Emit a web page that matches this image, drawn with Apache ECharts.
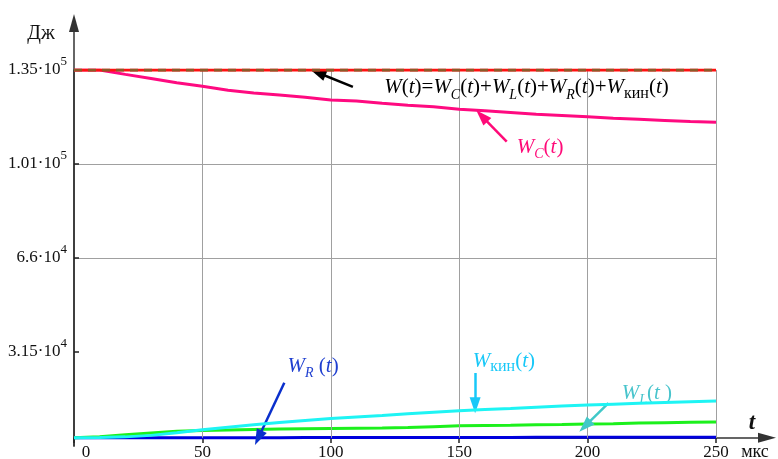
<!DOCTYPE html>
<html><head><meta charset="utf-8">
<script src="https://cdn.jsdelivr.net/npm/echarts@6/dist/echarts.min.js"></script>
<style>html,body{margin:0;padding:0;background:#fff}#c{width:778px;height:459px}</style>
</head><body><div id="c"></div>
<script>
// ---- data (t in мкс, energies in Дж) ----
const tValues = [0,10,20,30,40,50,60,70,80,90,100,110,120,130,140,150,160,170,180,190,200,210,220,230,240,250];
const W_total = [135000,135000,135000,135000,135000,135000,135000,135000,135000,135000,135000,135000,135000,135000,135000,135000,135000,135000,135000,135000,135000,135000,135000,135000,135000,135000];
const W_C = [135000,135000,133400,131900,130300,129000,127600,126600,125800,125000,124000,123600,122800,122100,121500,120600,120000,119400,118800,118300,117800,117300,116900,116500,116100,115800];
const W_L = [0,400,1100,1800,2400,2700,2900,3100,3200,3300,3400,3500,3600,3800,4100,4400,4500,4600,4800,4900,5050,5200,5400,5550,5700,5800];
const W_kin = [0,100,350,900,1900,3000,3900,4800,5600,6400,7080,7650,8200,8800,9400,9940,10400,10800,11250,11650,12040,12350,12650,12950,13250,13500];
const W_R = [0,0,10,20,30,40,50,60,70,80,90,100,110,120,130,140,150,160,170,180,190,200,210,220,230,240];
const xTicks = [50,100,150,200,250];
const yTickValues = [31500,66000,100500,135000];
const yTickMantissa = ['3.15','6.6','1.01','1.35'];
const yTickExponent = ['4','4','5','5'];

const FONT = 'Liberation Serif';
const pair = ys => tValues.map((t,i)=>[t, ys[i]]);

const richText = {
  i:{fontFamily:FONT,fontStyle:'italic',fontSize:21,lineHeight:28},
  n:{fontFamily:FONT,fontSize:21,lineHeight:28},
  sb:{fontFamily:FONT,fontStyle:'italic',fontSize:14,lineHeight:14,verticalAlign:'bottom'},
  su:{fontFamily:FONT,fontSize:16,lineHeight:16,verticalAlign:'bottom'}
};
function withColor(c){const r={};for(const k in richText){r[k]=Object.assign({},richText[k],{color:c});}return r;}

const labels = [
  {coord:[176.2,128400], color:'#000000', text:'{i|W}{n|(}{i|t}{n|)=}{i|W}{sb|C}{n|(}{i|t}{n|)+}{i|W}{sb|L}{n|(}{i|t}{n|)+}{i|W}{sb|R}{n|(}{i|t}{n|)+}{i|W}{su|кин}{n|(}{i|t}{n|)}'},
  {coord:[181.5,106700], color:'#ff0a78', text:'{i|W}{sb|C}{n|(}{i|t}{n|)}'},
  {coord:[93.1,26300], color:'#1f3fd0', text:'{i|W}{sb|R}{n| (}{i|t}{n|)}'},
  {coord:[167.4,28200], color:'#18c8f8', text:'{i|W}{su|кин}{n|(}{i|t}{n|)}'},
  {coord:[223.1,16400], color:'#48c4cc', text:'{i|W}{sb|L}{n|(}{i|t}{n| )}'}
];
const arrows = [
  {from:[108.6,128800], to:[95.0,134000], color:'#000000'},
  {from:[168.5,108700], to:[158.8,118100], color:'#ff0a78'},
  {from:[81.9,20200], to:[71.8,0], color:'#0a2fcc'},
  {from:[156.2,23800], to:[156.2,12000], color:'#18c8f8'},
  {from:[208.1,12700], to:[199.0,4300], color:'#40c8c8'}
];

const chart = echarts.init(document.getElementById('c'), null, {renderer:'canvas'});
const lineS = (name, ys, color, z, extra) => Object.assign({
  name, type:'line', data: pair(ys), xAxisIndex:0, yAxisIndex:0, showSymbol:false, symbol:'none',
  lineStyle:{color, width:3}, itemStyle:{color}, z, animation:false, silent:true
}, extra||{});

chart.setOption({
  animation:false,
  backgroundColor:'#ffffff',
  grid:[
    {left:74, right:62, top:70, bottom:13, containLabel:false, outerBoundsMode:'none'},
    {left:74, right:11, top:23, bottom:13, containLabel:false, outerBoundsMode:'none'}
  ],
  xAxis:[
    {gridIndex:0, type:'value', min:0, max:250, interval:50, offset:-8,
     axisLine:{show:true, onZero:false, lineStyle:{color:'#333', width:1.5}},
     axisTick:{show:true, inside:false, length:5, lineStyle:{color:'#222', width:1.5}},
     splitLine:{show:false},
     axisLabel:{fontFamily:FONT, fontSize:17, color:'#111', margin:6, hideOverlap:false,
       formatter: v => v===0 ? '{z|0}' : String(v),
       rich:{z:{fontFamily:FONT, fontSize:17, color:'#111', padding:[0,0,0,24]}}}},
    {gridIndex:1, type:'value', min:0, max:269.86, show:true,
     axisLine:{show:true, onZero:true, symbol:['none','triangle'], symbolSize:[10,18], lineStyle:{color:'#333', width:1.5}},
     axisTick:{show:false}, axisLabel:{show:false}, splitLine:{show:false}}
  ],
  yAxis:[
    {gridIndex:0, type:'value', min:-3000, max:135000, interval:34500,
     axisLine:{show:true, onZero:false, lineStyle:{color:'#333', width:1.5}},
     axisTick:{show:true, inside:true, length:5, customValues:yTickValues, lineStyle:{color:'#222', width:1.5}},
     splitLine:{show:true, showMinLine:false, lineStyle:{color:'#a0a0a0', width:1}},
     axisLabel:{margin:7, color:'#111', hideOverlap:false,
       formatter: v => { const k = yTickValues.indexOf(v); return k<0 ? '' : '{b|'+yTickMantissa[k]+'·10}{s|'+yTickExponent[k]+'}'; },
       rich:{b:{fontFamily:FONT, fontSize:17, lineHeight:30, color:'#111'},
             s:{fontFamily:FONT, fontSize:13, lineHeight:13, verticalAlign:'top', color:'#111'}}}},
    {gridIndex:1, type:'value', min:-3000, max:152250,
     axisLine:{show:true, onZero:false, symbol:['none','triangle'], symbolSize:[10,18], lineStyle:{color:'#333', width:1.5}},
     axisTick:{show:false}, axisLabel:{show:false}, splitLine:{show:false}}
  ],
  graphic:[
    {type:'text', x:41, y:34, style:{text:'Дж', fontFamily:FONT, fontSize:20, fill:'#111', align:'center', verticalAlign:'middle'}},
    {type:'text', x:752, y:423, style:{text:'t', fontFamily:FONT, fontStyle:'italic', fontWeight:'bold', fontSize:23, fill:'#111', align:'center', verticalAlign:'middle'}},
    {type:'text', x:755, y:452, style:{text:'мкс', fontFamily:FONT, fontSize:18, fill:'#111', align:'center', verticalAlign:'middle'}}
  ],
  series:[
    {name:'grid', type:'line', data:[], xAxisIndex:0, yAxisIndex:0, z:1, silent:true,
     markLine:{silent:true, animation:false, symbol:['none','none'], label:{show:false},
       lineStyle:{color:'#a0a0a0', width:1, type:'solid'},
       data: xTicks.map(x => [{coord:[x,0]},{coord:[x,135000]}])}},
    lineS('W_R', W_R, '#0000dd', 3),
    lineS('W_L', W_L, '#1cf01c', 4),
    lineS('W_kin', W_kin, '#1ef4f4', 5),
    lineS('W_C', W_C, '#ff0a80', 6),
    lineS('W', W_total, '#ff1010', 7),
    lineS('W_sum', W_total, '#8c5a28', 8, {lineStyle:{color:'#8c5a28', width:3, type:[8,6]}}),
    {name:'annot', type:'line', data:[], xAxisIndex:0, yAxisIndex:0, z:10, silent:true,
     markLine:{silent:true, animation:false, label:{show:false}, symbol:['none','triangle'], symbolSize:[1,14],
       data: arrows.map(a => [
         {coord:a.from, symbol:'none', lineStyle:{color:a.color, width:2.5, type:'solid'}},
         {coord:a.to, symbol:'triangle', symbolSize:[11,16], itemStyle:{color:a.color}}
       ])},
     markPoint:{silent:true, animation:false, symbol:'circle', symbolSize:1, itemStyle:{color:'rgba(0,0,0,0)'},
       data: labels.map(l => ({coord:l.coord, label:{show:true, position:'inside', formatter:l.text, rich:withColor(l.color)}}))}}
  ]
});
</script></body></html>
